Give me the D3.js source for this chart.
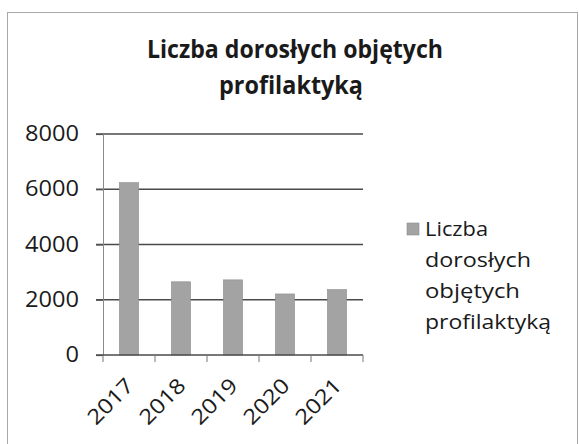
<!DOCTYPE html>
<html>
<head>
<meta charset="utf-8">
<script src="https://cdn.jsdelivr.net/npm/d3@7"></script>
<style>
  body { margin: 0; background: #fff; }
  svg { display: block; font-family: 'Open Sans', sans-serif; }
</style>
</head>
<body>
<svg id="chart"></svg>
<script>
const categories = ['2017', '2018', '2019', '2020', '2021']
const values = [6240, 2650, 2720, 2210, 2370]
const yTicks = [0, 2000, 4000, 6000, 8000]
const titleLines = ['Liczba dorosłych objętych', 'profilaktyką']
const legendLines = ['Liczba', 'dorosłych', 'objętych', 'profilaktyką']

const width = 579, height = 444
const margin = {top: 134, right: 216, bottom: 89, left: 103}

// the scan is a bit wider than the font, so stretch text to its measured length
const titleLen = [296, 144]
const legendLen = [63, 106, 95, 126]

const svg = d3.select('#chart')
  .attr('width', width)
  .attr('height', height)

// outer frame of the chart
svg.append('rect')
  .attr('x', 7.5).attr('y', 12.5)
  .attr('width', 570).attr('height', 445)
  .attr('fill', 'none')
  .attr('stroke', '#a8a8a8')
  .attr('stroke-width', 1)

// title, centred on the frame
svg.append('g')
  .selectAll('text')
  .data(titleLines)
  .join('text')
  .attr('x', (d, i) => [295, 291][i] - titleLen[i] / 2)
  .attr('y', (d, i) => 58 + i * 36)
  .attr('font-size', 25)
  .attr('font-weight', 'bold')
  .attr('fill', '#1a1a1a')
  .attr('textLength', (d, i) => titleLen[i])
  .attr('lengthAdjust', 'spacingAndGlyphs')
  .text(d => d)

const x = d3.scaleBand()
  .domain(categories)
  .range([margin.left, width - margin.right])
  .paddingInner(0.63)
  .paddingOuter(0.315)

const y = d3.scaleLinear()
  .domain([0, 8000])
  .range([height - margin.bottom, margin.top])

// gridlines
svg.append('g')
  .selectAll('line')
  .data(yTicks.slice(1))
  .join('line')
  .attr('x1', margin.left - 7)
  .attr('x2', width - margin.right)
  .attr('y1', d => y(d))
  .attr('y2', d => y(d))
  .attr('stroke', '#4a4a4a')
  .attr('stroke-width', 1.5)

// bars
svg.append('g')
  .selectAll('rect')
  .data(values)
  .join('rect')
  .attr('x', (d, i) => x(categories[i]))
  .attr('y', d => y(d))
  .attr('width', x.bandwidth())
  .attr('height', d => y(0) - y(d))
  .attr('fill', '#a3a3a3')
  .attr('stroke', '#8e8e8e')
  .attr('stroke-width', 0.6)

// y axis
const yAxis = svg.append('g')
  .attr('transform', 'translate(' + margin.left + ',0)')
  .call(d3.axisLeft(y).tickValues(yTicks).tickFormat(d3.format('d')).tickSize(7).tickPadding(17))
yAxis.select('.domain').attr('stroke', '#8a8a8a').attr('stroke-width', 1)
yAxis.selectAll('.tick line').attr('stroke', '#555').attr('stroke-width', 1.2)
yAxis.selectAll('text')
  .attr('font-size', 21)
  .attr('font-family', "'Open Sans', sans-serif")
  .attr('fill', '#1a1a1a')
  .attr('textLength', d => String(d).length * 13.5)
  .attr('lengthAdjust', 'spacingAndGlyphs')

// x axis, ticks at category boundaries
const bounds = d3.range(categories.length + 1).map(i => margin.left + i * x.step())
svg.append('line')
  .attr('x1', margin.left - 7).attr('x2', width - margin.right)
  .attr('y1', y(0)).attr('y2', y(0))
  .attr('stroke', '#4a4a4a').attr('stroke-width', 1.5)
svg.append('g')
  .selectAll('line')
  .data(bounds)
  .join('line')
  .attr('x1', d => d).attr('x2', d => d)
  .attr('y1', y(0)).attr('y2', y(0) + 7)
  .attr('stroke', '#777').attr('stroke-width', 1)

svg.append('g')
  .selectAll('text')
  .data(categories)
  .join('text')
  .attr('transform', d => 'translate(' + (x(d) + x.bandwidth() / 2 + 6) + ',' + (y(0) + 32) + ') rotate(-45)')
  .attr('text-anchor', 'end')
  .attr('font-size', 21)
  .attr('fill', '#1a1a1a')
  .attr('textLength', 55)
  .attr('lengthAdjust', 'spacingAndGlyphs')
  .text(d => d)

// legend
const legend = svg.append('g')
legend.append('rect')
  .attr('x', 407).attr('y', 223)
  .attr('width', 12).attr('height', 12)
  .attr('fill', '#a3a3a3')
  .attr('stroke', '#8e8e8e')
  .attr('stroke-width', 0.6)
legend.selectAll('text')
  .data(legendLines)
  .join('text')
  .attr('x', 425)
  .attr('y', (d, i) => 236 + i * 31)
  .attr('font-size', 20)
  .attr('fill', '#1a1a1a')
  .attr('textLength', (d, i) => legendLen[i])
  .attr('lengthAdjust', 'spacingAndGlyphs')
  .text(d => d)
</script>
</body>
</html>
